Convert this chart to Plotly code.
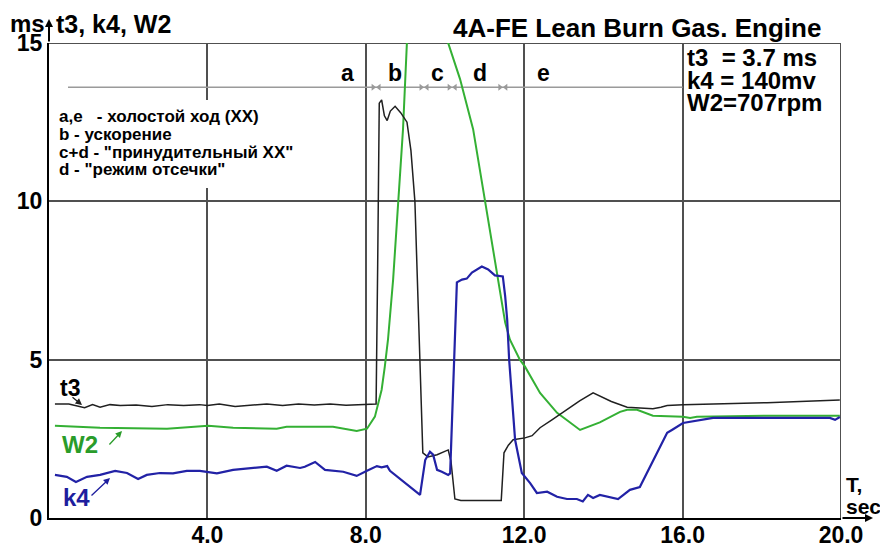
import plotly.graph_objects as go

# ---------------- data ----------------
t3_t = [0.15, 0.5, 0.9, 1.1, 1.29, 1.54, 1.8, 2.2, 2.6, 3.0, 3.4, 3.8, 4.0, 4.3, 4.7, 5.1, 5.5, 5.9,
        6.3, 6.7, 7.1, 7.5, 7.9, 8.26, 8.30, 8.34, 8.40, 8.47, 8.54, 8.62, 8.74, 8.88, 9.04, 9.14,
        9.24, 9.37, 9.44, 9.57, 9.8, 10.08, 10.15, 10.25, 10.4, 11.0, 11.42, 11.49, 11.6,
        11.72, 12.02, 12.2, 12.4, 12.7, 13.08, 13.4, 13.74, 13.91, 14.2, 14.6, 15.25, 15.45, 15.61,
        16.01, 17.0, 18.13, 19.97]
t3_v = [3.6, 3.6, 3.48, 3.58, 3.5, 3.58, 3.55, 3.57, 3.52, 3.58, 3.55, 3.58, 3.55, 3.6, 3.52, 3.56,
        3.6, 3.55, 3.6, 3.57, 3.6, 3.56, 3.57, 3.6, 8.0, 13.1, 13.2, 12.7, 12.55, 12.85, 13.0, 12.8,
        12.5, 11.6, 10.0, 5.0, 2.06, 1.93, 2.0, 2.15, 1.8, 0.6, 0.55, 0.55, 0.55, 2.06, 2.3,
        2.47, 2.53, 2.6, 2.85, 3.1, 3.42, 3.7, 3.95, 3.85, 3.68, 3.5, 3.45, 3.5, 3.55, 3.58, 3.6,
        3.64, 3.73]

k4_t = [0.15, 0.45, 0.68, 0.96, 1.29, 1.67, 1.97, 2.25, 2.47, 2.8, 3.13, 3.48, 3.81, 4.24, 4.65,
        5.15, 5.5, 5.75, 6.0, 6.34, 6.46, 6.72, 6.97, 7.43, 7.77, 8.03, 8.28, 8.4, 8.54, 8.61, 9.37,
        9.5, 9.62, 9.7, 9.8, 9.92, 10.08, 10.13, 10.23, 10.3, 10.43, 10.55, 10.68, 10.93, 11.09,
        11.26, 11.46, 11.52, 11.57, 11.62, 11.77, 11.94, 12.15, 12.32, 12.58, 12.83, 13.08, 13.33,
        13.48, 13.61, 13.74, 13.91, 14.37, 14.67, 14.92, 15.61, 15.73, 16.01, 16.77, 18.13, 19.72,
        19.85, 19.97]
k4_v = [1.36, 1.30, 1.14, 1.30, 1.36, 1.49, 1.42, 1.23, 1.36, 1.42, 1.41, 1.49, 1.49, 1.41, 1.52,
        1.58, 1.62, 1.49, 1.65, 1.58, 1.62, 1.77, 1.52, 1.46, 1.33, 1.49, 1.64, 1.6, 1.64, 1.49, 0.73,
        1.83, 2.09, 2.0, 1.52, 1.46, 1.36, 1.41, 5.0, 7.44, 7.53, 7.56, 7.75, 7.94, 7.85, 7.66, 7.63,
        7.0, 6.27, 5.0, 2.47, 1.42, 1.1, 0.79, 0.83, 0.67, 0.6, 0.6, 0.52, 0.73, 0.63, 0.73, 0.6,
        0.89, 0.98, 2.69, 2.78, 3.0, 3.16, 3.16, 3.16, 3.1, 3.19]

w2_t = [0.15, 1.29, 2.98, 4.02, 4.65, 5.75, 6.0, 6.34, 7.17, 7.77, 8.03, 8.23, 8.4, 8.48, 8.56, 8.69,
        8.86, 8.94, 9.04, 9.3, 9.6, 9.9, 10.08, 10.38, 10.71, 11.01, 11.31, 11.52, 11.64, 11.89,
        12.02, 12.4, 12.83, 13.41, 13.91, 14.42, 14.6, 14.85, 15.25, 16.01, 16.19, 16.36, 18.13, 19.97]
w2_v = [2.91, 2.85, 2.82, 2.91, 2.85, 2.82, 2.88, 2.88, 2.88, 2.75, 2.82, 3.2, 4.05, 4.78, 5.63, 7.53,
        10.7, 12.28, 15.06, 17.5, 18.5, 17.0, 15.0, 13.86, 12.28, 10.0, 7.63, 6.17, 5.63, 5.0,
        4.78, 3.95, 3.32, 2.78, 3.02, 3.35, 3.42, 3.42, 3.23, 3.2, 3.16, 3.2, 3.23, 3.23]

x_ticks = [4, 8, 12, 16, 20]
x_labels = ["4.0", "8.0", "12.0", "16.0", "20.0"]
y_ticks = [0, 5, 10, 15]
y_labels = ["0", "5", "10", "15"]

phase_names = ["a", "b", "c", "d", "e"]
phase_bounds = [8.26, 9.47, 10.18, 11.46]
phase_level = 13.6

legend_lines = ["a,e\u00a0\u00a0\u00a0- холостой ход (ХХ)",
                "b - ускорение",
                'c+d - "принудительный ХХ"',
                'd - "режим отсечки"']
info_lines = ["t3\u00a0\u00a0= 3.7 ms", "k4 = 140mv", "W2=707rpm"]

# ---------------- geometry (page pixels) ----------------
PAGE_W, PAGE_H = 888, 547
OFF = 8                      # default body margin of the html page
PL, PR, PT, PB = 49, 841, 43, 518   # plot box on the page
FW, FH = PAGE_W - OFF, PAGE_H - OFF


def px_x(px):
    return (px - PL) / (PR - PL)


def px_y(py):
    return (PB - py) / (PB - PT)


def dx(px):
    return (px - PL) / (PR - PL) * 20.0


def dy(py):
    return (PB - py) / (PB - PT) * 15.0


FONT = "Liberation Sans"
GRID = "#505050"

fig = go.Figure()
fig.add_trace(go.Scatter(x=w2_t, y=w2_v, mode="lines", line=dict(color="#34b034", width=2),
                         hoverinfo="skip"))
fig.add_trace(go.Scatter(x=t3_t, y=t3_v, mode="lines", line=dict(color="#202020", width=1.5),
                         hoverinfo="skip"))
fig.add_trace(go.Scatter(x=k4_t, y=k4_v, mode="lines", line=dict(color="#2222a6", width=2.2),
                         hoverinfo="skip"))

# phase boundary markers
fig.add_trace(go.Scatter(x=[b - 0.075 for b in phase_bounds], y=[phase_level] * len(phase_bounds),
                         mode="markers", marker=dict(symbol="triangle-right", size=6, color="#9a9a9a"),
                         hoverinfo="skip"))
fig.add_trace(go.Scatter(x=[b + 0.075 for b in phase_bounds], y=[phase_level] * len(phase_bounds),
                         mode="markers", marker=dict(symbol="triangle-left", size=6, color="#9a9a9a"),
                         hoverinfo="skip"))

shapes = [
    dict(type="line", xref="x", yref="y", x0=dx(68), x1=16, y0=phase_level, y1=phase_level,
         line=dict(color="#9a9a9a", width=1.5), layer="between"),
    dict(type="rect", xref="x", yref="y", x0=dx(55), x1=dx(302), y0=dy(188), y1=dy(100),
         fillcolor="white", line=dict(width=0), layer="between"),
    dict(type="line", xref="x", yref="y", x0=0, x1=20, y0=15, y1=15,
         line=dict(color=GRID, width=2), layer="between"),
    dict(type="line", xref="x", yref="y", x0=20, x1=20, y0=0, y1=15,
         line=dict(color=GRID, width=2), layer="between"),
]

ann = []


def text(s, px, py, size, color="black", xanchor="left"):
    ann.append(dict(text=s, x=px_x(px), y=px_y(py), xref="paper", yref="paper", xanchor=xanchor,
                    yanchor="middle", showarrow=False, borderpad=0,
                    font=dict(family=FONT, size=size, color=color, weight="bold")))


def arrow(tip, tail, color, width=1.3, head=2, size=1.0):
    ann.append(dict(text="", x=px_x(tip[0]), y=px_y(tip[1]), xref="paper", yref="paper",
                    ax=tail[0] - tip[0], ay=tail[1] - tip[1], showarrow=True,
                    arrowhead=head, arrowsize=size, arrowwidth=width, arrowcolor=color))


text("ms", 9, 23, 24)
text("t3, k4, W2", 55, 24, 25)
text("4A-FE Lean Burn Gas. Engine", 822, 28, 26, xanchor="right")
for i, s in enumerate(info_lines):
    text(s, 686, 58 + i * 22.5, 24)
for i, s in enumerate(legend_lines):
    text(s, 58, 117 + i * 17.5, 17)
for name, px in zip(phase_names, [347, 395, 437, 480, 543]):
    text(name, px, 73, 23, xanchor="center")
text("t3", 70, 388, 23, xanchor="center")
text("W2", 80, 444, 24, color="#2a9c2a", xanchor="center")
text("k4", 76, 497, 24, color="#1e1e9e", xanchor="center")
text("T,", 845, 484, 21)
text("sec", 845, 506, 21)

arrow((82, 405), (71, 396), "#202020")
arrow((122, 431), (108, 446), "#2a9c2a")
arrow((110, 478), (90, 497), "#1e1e9e")
arrow((PL, 19), (PL, PT), "black", width=2, head=2, size=0.8)
arrow((873, PB), (PR, PB), "black", width=2, head=2, size=0.8)

fig.update_layout(
    width=FW, height=FH,
    margin=dict(l=PL - OFF, r=PAGE_W - PR, t=PT - OFF, b=PAGE_H - PB, pad=0),
    paper_bgcolor="white", plot_bgcolor="white", showlegend=False,
    shapes=shapes, annotations=ann,
    xaxis=dict(range=[0, 20], tickvals=x_ticks, ticktext=x_labels, showgrid=True,
               gridcolor=GRID, gridwidth=1.8, zeroline=False, showline=True, linecolor="black",
               linewidth=2, ticks="", automargin=False, fixedrange=True, ticklabelstandoff=-5,
               tickfont=dict(family=FONT, size=23, color="black", weight="bold")),
    yaxis=dict(range=[0, 15], tickvals=y_ticks, ticktext=y_labels, showgrid=True,
               gridcolor=GRID, gridwidth=1.8, zeroline=False, showline=True, linecolor="black",
               linewidth=2, ticks="", automargin=False, fixedrange=True,
               tickfont=dict(family=FONT, size=23, color="black", weight="bold")),
)

fig.write_html("out.html")
